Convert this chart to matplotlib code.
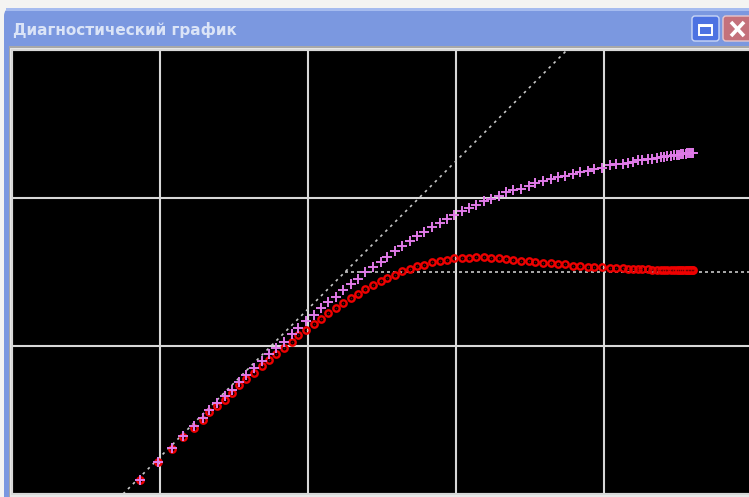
import matplotlib
matplotlib.use("Agg")
import matplotlib.pyplot as plt
from matplotlib.patches import Rectangle, FancyBboxPatch

# ---- data: log-log diagnostic plot, values in log-cycle units ----
log_t = [0.865, 0.984, 1.079, 1.157, 1.228, 1.289, 1.333, 1.385, 1.437, 1.489,
         1.534, 1.583, 1.635, 1.689, 1.734, 1.784, 1.836, 1.890, 1.934, 1.986,
         2.039, 2.090, 2.135, 2.187, 2.239, 2.291, 2.336, 2.387, 2.439, 2.491,
         2.534, 2.586, 2.637, 2.689, 2.734, 2.786, 2.840, 2.892, 2.937, 2.986,
         3.039, 3.090, 3.135, 3.187, 3.239, 3.291, 3.336, 3.387, 3.439, 3.491,
         3.536, 3.588, 3.640, 3.691, 3.736, 3.788, 3.840, 3.892, 3.934, 3.986,
         4.039, 4.083, 4.128, 4.164, 4.198, 4.232, 4.259, 4.295, 4.322, 4.356,
         4.382, 4.405, 4.429, 4.451, 4.471, 4.490, 4.507, 4.522, 4.537, 4.551,
         4.563, 4.574, 4.584, 4.593, 4.601]

# pressure change
log_dp = [0.095, 0.218, 0.313, 0.392, 0.459, 0.511, 0.568, 0.613, 0.662, 0.703,
          0.759, 0.804, 0.849, 0.901, 0.944, 0.984, 1.029, 1.081, 1.125, 1.167,
          1.209, 1.255, 1.299, 1.333, 1.376, 1.419, 1.455, 1.498, 1.534, 1.568,
          1.603, 1.644, 1.674, 1.707, 1.743, 1.768, 1.802, 1.829, 1.856, 1.883,
          1.909, 1.934, 1.951, 1.978, 1.995, 2.014, 2.039, 2.054, 2.063, 2.081,
          2.099, 2.117, 2.126, 2.142, 2.151, 2.160, 2.176, 2.184, 2.194, 2.203,
          2.221, 2.230, 2.230, 2.239, 2.245, 2.255, 2.255, 2.264, 2.264, 2.272,
          2.275, 2.279, 2.282, 2.284, 2.289, 2.291, 2.293, 2.295, 2.297, 2.299,
          2.302, 2.304, 2.304, 2.306, 2.306]

# pressure derivative
log_deriv = [0.095, 0.218, 0.306, 0.385, 0.448, 0.500, 0.552, 0.597, 0.637, 0.680,
             0.734, 0.777, 0.820, 0.863, 0.903, 0.948, 0.984, 1.027, 1.072, 1.108,
             1.149, 1.184, 1.220, 1.255, 1.289, 1.324, 1.349, 1.385, 1.410, 1.439,
             1.461, 1.480, 1.507, 1.522, 1.541, 1.549, 1.568, 1.576, 1.584, 1.593,
             1.593, 1.593, 1.601, 1.601, 1.593, 1.593, 1.590, 1.583, 1.576, 1.574,
             1.568, 1.563, 1.559, 1.552, 1.552, 1.543, 1.541, 1.534, 1.534, 1.534,
             1.525, 1.525, 1.525, 1.518, 1.518, 1.518, 1.518, 1.518, 1.514, 1.514,
             1.514, 1.514, 1.514, 1.513, 1.513, 1.513, 1.513, 1.512, 1.512, 1.512,
             1.512, 1.512, 1.512, 1.512, 1.512]

unit_slope_x0 = 0.75      # wellbore-storage line crosses y=0 here
radial_level = 1.5        # radial-flow stabilisation level

x_cycles = [0, 1, 2, 3, 4, 5]
y_cycles = [0, 1, 2, 3]

title = "Диагностический график"

W, H = 749, 497
fig = plt.figure(figsize=(W / 100, H / 100), dpi=100)
fig.patch.set_facecolor("#f4f4f2")

# ---- window chrome drawn in pixel coordinates ----
chrome = fig.add_axes([0, 0, 1, 1])
chrome.set_xlim(0, W)
chrome.set_ylim(H, 0)
chrome.axis("off")

frame = FancyBboxPatch((4, 8), 760, 520, boxstyle="round,pad=0,rounding_size=8",
                       facecolor="#7b98e0", edgecolor="none")
chrome.add_patch(frame)
chrome.add_patch(Rectangle((6, 8), 758, 3, facecolor="#a6bcef", edgecolor="none"))
chrome.add_patch(Rectangle((9, 46), 760, 460, facecolor="#a8a8a8", edgecolor="none"))
chrome.add_patch(Rectangle((10, 48), 760, 460, facecolor="#e8e8e8", edgecolor="none"))

chrome.text(13, 30, title, color="#dbe4f7", fontsize=11, fontweight="bold",
            va="center", ha="left", family="DejaVu Sans")

# maximize button
chrome.add_patch(FancyBboxPatch((692, 16), 27, 25, boxstyle="round,pad=0,rounding_size=3",
                                facecolor="#4d72e2", edgecolor="#c9d6f6", lw=1))
chrome.add_patch(Rectangle((698.5, 24.5), 13, 10, facecolor="none", edgecolor="white", lw=1.4))
chrome.add_patch(Rectangle((698.5, 24.5), 13, 2.5, facecolor="white", edgecolor="none"))
# close button
chrome.add_patch(FancyBboxPatch((723, 16), 30, 25, boxstyle="round,pad=0,rounding_size=3",
                                facecolor="#c4717b", edgecolor="#e6c7cc", lw=1))
chrome.plot([731, 744], [22, 36], color="white", lw=2.6, solid_capstyle="butt")
chrome.plot([731, 744], [36, 22], color="white", lw=2.6, solid_capstyle="butt")

# ---- plot area ----
ax = fig.add_axes([12 / W, 3 / H, 740 / W, 444 / H])
ax.set_facecolor("black")
ax.set_xlim(x_cycles[0], x_cycles[-1])
ax.set_ylim(y_cycles[0], y_cycles[-1])
ax.set_xticks(x_cycles)
ax.set_yticks(y_cycles)
ax.tick_params(length=0, labelbottom=False, labelleft=False)
ax.grid(True, color="#d8d8d8", lw=1.5)
ax.set_axisbelow(True)
for s in ax.spines.values():
    s.set_color("#d8d8d8")
    s.set_linewidth(1.5)

ax.axline((unit_slope_x0, 0), slope=1, color="#c8c8c8", lw=1.2,
          linestyle=(0, (1.6, 2.6)))
ax.hlines(radial_level, unit_slope_x0 + radial_level, x_cycles[-1], color="#c8c8c8",
          lw=1.2, linestyles=[(0, (1.8, 1.8))])

ax.plot(log_t, log_deriv, linestyle="none", marker="o", ms=4.6, mfc="none",
        mec="#ee0000", mew=1.7, zorder=3)
ax.plot(log_t, log_deriv, linestyle="none", marker="s", ms=1.0, mfc="#700000",
        mec="none", zorder=3)
ax.plot(log_t, log_dp, linestyle="none", marker="+", ms=6.5, mec="#e07ae8",
        mew=1.4, zorder=4)

fig.savefig("out.png", dpi=100, facecolor=fig.get_facecolor())
